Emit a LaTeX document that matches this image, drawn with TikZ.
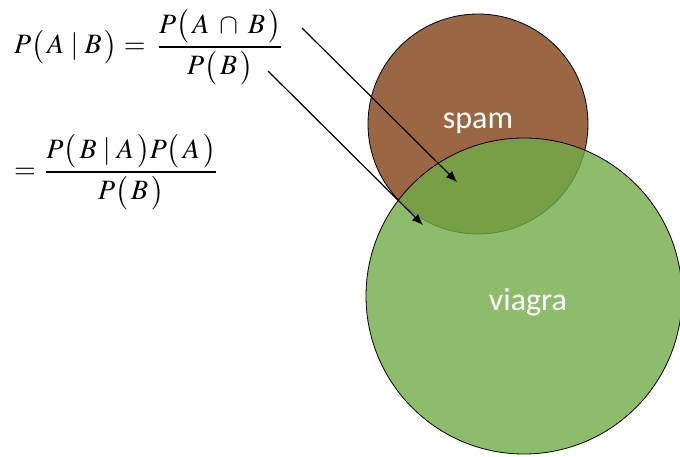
\documentclass[tikz,border=0pt]{standalone}
\usepackage{amsmath}
\usepackage{mathptmx}
\usepackage[no-math]{fontspec}
\usepackage{tikz}
\usetikzlibrary{arrows.meta}
\newfontfamily\setfont{Carlito}
\definecolor{spamfill}{RGB}{154,102,68}
\definecolor{viagrafill}{RGB}{112,173,71}
\tikzset{
  flow/.style={-{Latex[length=11pt,width=9pt]},line width=1.2pt},
  setc/.style={circle,draw=black,line width=0.8pt,inner sep=0pt},
  setlbl/.style={text=white,font=\setfont\fontsize{32}{36}\selectfont},
  eqn/.style={anchor=west,inner sep=0pt,font=\fontsize{28}{34}\selectfont},
}

\begin{document}
\begin{tikzpicture}[x=1pt,y=-1pt]
\useasboundingbox (0,0) rectangle (680,457);
\node[setc,fill=spamfill,minimum size=220pt] (spam) at (478,124) {};
\node[setc,fill=viagrafill,fill opacity=0.8,minimum size=316pt] (viagra) at (524,296) {};
\node[setlbl] (spamlbl) at (478,123) {spam};
\node[setlbl] (viagralbl) at (528,302) {viagra};
\node[eqn] (eqa) at (14,47) {$P\bigl(\,A\mid B\,\bigr)=\;\dfrac{P\bigl(\,A\;\cap\;B\,\bigr)}{P\bigl(\,B\,\bigr)}$};
\node[eqn] (eqb) at (14,172) {$=\,\dfrac{P\bigl(\,B\mid A\,\bigr)P\bigl(\,A\,\bigr)}{P\bigl(\,B\,\bigr)}$};
\coordinate (numend) at (302,28);
\coordinate (denend) at (268,71);
\coordinate (both) at (457,182);
\coordinate (onlyb) at (423,225);
\foreach \a/\b in {numend/both,denend/onlyb} \draw[flow] (\a)--(\b);
\end{tikzpicture}
\end{document}
